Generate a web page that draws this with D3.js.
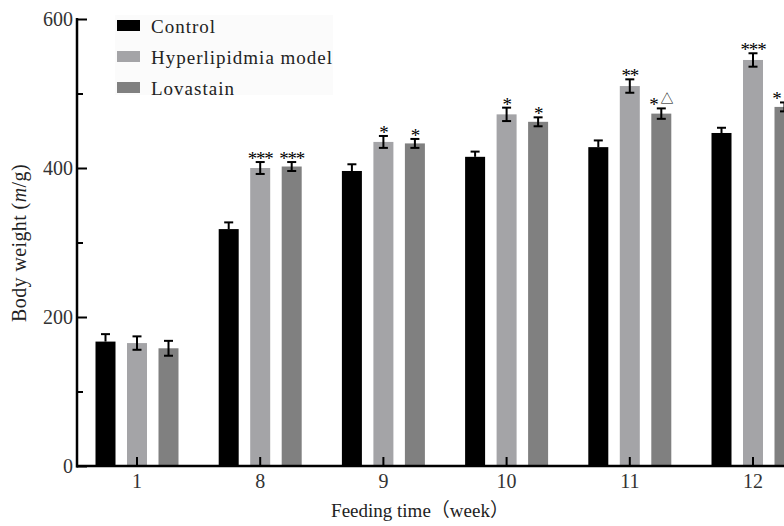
<!DOCTYPE html>
<html>
<head>
<meta charset="utf-8">
<script src="https://cdn.jsdelivr.net/npm/d3@7"></script>
<style>
  html, body { margin: 0; padding: 0; background: #fff; overflow: hidden; }
  svg { display: block; }
  text { font-family: "Liberation Serif", "Noto Sans CJK SC", serif; }
</style>
</head>
<body>
<svg id="chart" width="784" height="526"></svg>
<script>
// ---- data ----
const weeks = ["1", "8", "9", "10", "11", "12"];
const seriesNames = ["Control", "Hyperlipidmia model", "Lovastain"];
const controlMean = [167, 318, 396, 415, 428, 447];
const controlErr  = [10, 9, 9, 7, 9, 7];
const modelMean   = [165, 400, 435, 472, 510, 545];
const modelErr    = [9, 8, 8, 9, 9, 9];
const lovaMean    = [158, 402, 433, 462, 473, 482];
const lovaErr     = [10, 6, 6, 6, 7, 6];
const modelStars  = ["", "***", "*", "*", "**", "***"];
const lovaStars   = ["", "***", "*", "*", "*", "*"];
const lovaTri     = ["", "", "", "", "△", "△"];
const yTicksMajor = [0, 200, 400, 600];
const yTicksMinor = [100, 300, 500];
const seriesColors = ["#000000", "#a4a4a7", "#808080"];

const series = [
  { name: seriesNames[0], mean: controlMean, err: controlErr, stars: null, tri: null },
  { name: seriesNames[1], mean: modelMean, err: modelErr, stars: modelStars, tri: null },
  { name: seriesNames[2], mean: lovaMean, err: lovaErr, stars: lovaStars, tri: lovaTri }
];

const svg = d3.select("#chart");
const x0 = 77, yBase = 466;

const y = d3.scaleLinear().domain([0, 600]).range([466, 19]);
const x = d3.scaleBand().domain(weeks).range([75.4, 75.4 + 6 * 123.2]).padding(0);
const xs = d3.scalePoint().domain(seriesNames).range([-31.5, 31.5]);
const barW = 20;
const cx = w => x(w) + x.bandwidth() / 2;

// bars
series.forEach((s, si) => {
  const g = svg.append("g");
  g.selectAll("rect").data(weeks).join("rect")
    .attr("x", (w) => cx(w) + xs(s.name) - barW / 2)
    .attr("y", (w, i) => y(s.mean[i]))
    .attr("width", barW)
    .attr("height", (w, i) => y(0) - y(s.mean[i]))
    .attr("fill", seriesColors[si]);
  // error bars
  weeks.forEach((w, i) => {
    const c = cx(w) + xs(s.name);
    const top = y(s.mean[i] + s.err[i]);
    const bot = y(s.mean[i] - s.err[i]);
    const bottomDrawn = si === 0 ? y(s.mean[i]) : bot;
    g.append("line").attr("x1", c).attr("x2", c).attr("y1", top).attr("y2", bottomDrawn)
      .attr("stroke", "#000").attr("stroke-width", 2);
    g.append("line").attr("x1", c - 4.5).attr("x2", c + 4.5).attr("y1", top).attr("y2", top)
      .attr("stroke", "#000").attr("stroke-width", 2);
    if (si !== 0) {
      g.append("line").attr("x1", c - 4.5).attr("x2", c + 4.5).attr("y1", bot).attr("y2", bot)
        .attr("stroke", "#000").attr("stroke-width", 2);
    }
    if (s.stars && s.stars[i]) {
      const tri = s.tri && s.tri[i] ? s.tri[i] : "";
      const t = g.append("text")
        .attr("x", c)
        .attr("y", top + 3)
        .attr("text-anchor", "middle")
        .attr("font-family", "'DejaVu Sans', sans-serif")
        .attr("font-size", 19)
        .attr("letter-spacing", -1.2)
        .attr("fill", "#000");
      t.append("tspan").text(s.stars[i]);
      if (tri) {
        t.append("tspan").attr("dx", 3).attr("dy", -8).attr("font-size", 13)
          .attr("letter-spacing", 0).text(tri);
      }
    }
  });
});

// y axis
const yAxis = d3.axisLeft(y).tickValues(yTicksMajor).tickSize(-10).tickPadding(14).tickFormat(d3.format("d"));
const gy = svg.append("g").attr("transform", `translate(${x0},0)`).call(yAxis);
gy.select(".domain").remove();
gy.selectAll(".tick line").attr("stroke", "#000").attr("stroke-width", 2);
gy.selectAll(".tick text").attr("font-size", 20).attr("fill", "#333").attr("x", -4)
  .attr("font-family", "'Liberation Serif', serif");
const yMinor = d3.axisLeft(y).tickValues(yTicksMinor).tickSize(-6).tickFormat("");
const gym = svg.append("g").attr("transform", `translate(${x0},0)`).call(yMinor);
gym.select(".domain").remove();
gym.selectAll(".tick line").attr("stroke", "#000").attr("stroke-width", 2);
svg.append("line").attr("x1", x0).attr("x2", x0).attr("y1", y(600) - 1).attr("y2", yBase + 1.5)
  .attr("stroke", "#000").attr("stroke-width", 2.5);

// x axis
const xAxis = d3.axisBottom(x).tickSize(-9).tickPadding(8);
const gx = svg.append("g").attr("transform", `translate(0,${yBase})`).call(xAxis);
gx.select(".domain").remove();
gx.selectAll(".tick line").attr("stroke", "#000").attr("stroke-width", 2);
gx.selectAll(".tick text").attr("font-size", 20).attr("fill", "#333")
  .attr("font-family", "'Liberation Serif', serif");
svg.append("line").attr("x1", x0 - 1).attr("x2", 784).attr("y1", yBase).attr("y2", yBase)
  .attr("stroke", "#000").attr("stroke-width", 2.5);

// axis titles
svg.append("text").attr("x", 420).attr("y", 517).attr("text-anchor", "middle")
  .attr("font-size", 19).attr("fill", "#222").text("Feeding time（week）");
const yt = svg.append("text").attr("transform", "translate(26,243) rotate(-90)")
  .attr("text-anchor", "middle").attr("font-size", 20).attr("letter-spacing", 0.4).attr("fill", "#222");
yt.append("tspan").text("Body weight (");
yt.append("tspan").attr("font-style", "italic").text("m");
yt.append("tspan").text("/g)");

// legend
const lg = svg.append("g");
lg.append("rect").attr("x", 115).attr("y", 15).attr("width", 218).attr("height", 80).attr("fill", "#fbfbfb");
seriesNames.forEach((n, i) => {
  lg.append("rect").attr("x", 117).attr("y", 20 + i * 31).attr("width", 23).attr("height", 11)
    .attr("fill", seriesColors[i]);
  lg.append("text").attr("x", 151).attr("y", 33 + i * 31).attr("font-size", 19)
    .attr("letter-spacing", 1).attr("fill", "#222").text(n);
});
</script>
</body>
</html>
